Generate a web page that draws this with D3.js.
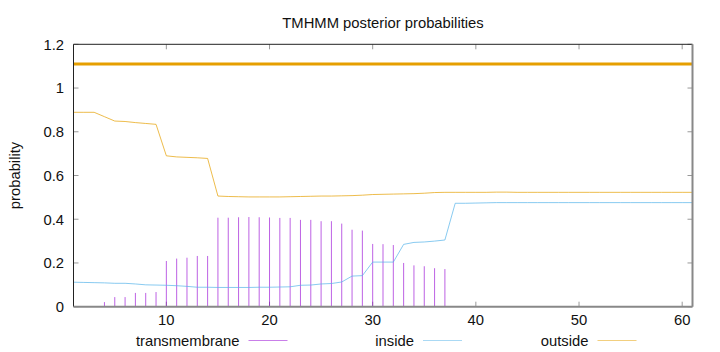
<!DOCTYPE html>
<html>
<head>
<meta charset="utf-8">
<script src="https://cdnjs.cloudflare.com/ajax/libs/d3/7.8.5/d3.min.js"></script>
<style>
  body { margin: 0; background: #fff; }
  svg text { font-family: "Liberation Sans", Arial, sans-serif; fill: #111; }
</style>
</head>
<body>
<div id="chart"></div>
<script>
// Data
var positions = d3.range(1, 62);

var transmembrane = [0, 0, 0, 0.021, 0.044, 0.044, 0.063, 0.063, 0.067, 0.209,
  0.220, 0.224, 0.232, 0.232, 0.407, 0.407, 0.409, 0.410, 0.409, 0.408,
  0.406, 0.406, 0.397, 0.397, 0.391, 0.391, 0.380, 0.352, 0.348, 0.287,
  0.286, 0.282, 0.200, 0.189, 0.185, 0.176, 0.172];

var inside = [0.112, 0.111, 0.110, 0.109, 0.107, 0.107, 0.104, 0.100, 0.099, 0.098,
  0.096, 0.093, 0.089, 0.089, 0.088, 0.088, 0.088, 0.088, 0.089, 0.089,
  0.090, 0.091, 0.098, 0.099, 0.104, 0.106, 0.113, 0.140, 0.142, 0.204,
  0.204, 0.204, 0.285, 0.294, 0.296, 0.300, 0.305, 0.473, 0.473, 0.474,
  0.475, 0.476, 0.476, 0.476, 0.476, 0.476, 0.476, 0.476, 0.476, 0.476,
  0.476, 0.476, 0.476, 0.476, 0.476, 0.476, 0.476, 0.476, 0.476, 0.476, 0.476];

var outside = [0.889, 0.889, 0.889, 0.869, 0.849, 0.847, 0.842, 0.838, 0.834, 0.690,
  0.685, 0.683, 0.681, 0.678, 0.506, 0.504, 0.503, 0.502, 0.502, 0.502,
  0.502, 0.503, 0.504, 0.505, 0.506, 0.506, 0.507, 0.508, 0.510, 0.513,
  0.514, 0.515, 0.516, 0.517, 0.519, 0.522, 0.523, 0.523, 0.523, 0.523,
  0.523, 0.524, 0.524, 0.523, 0.523, 0.523, 0.523, 0.523, 0.523, 0.523,
  0.523, 0.523, 0.523, 0.523, 0.523, 0.523, 0.523, 0.523, 0.523, 0.523, 0.523];

// predicted topology: the whole sequence is outside
var topology = [{ from: 1, to: 61, y: 1.11, region: 'outside' }];

var xTicks = [10, 20, 30, 40, 50, 60];
var yTicks = [0, 0.2, 0.4, 0.6, 0.8, 1, 1.2];
var legendNames = ['transmembrane', 'inside', 'outside'];

var width = 720, height = 352;
var margin = { top: 44.3, right: 27.5, bottom: 45.3, left: 73.5 };
var plotW = width - margin.left - margin.right;
var plotH = height - margin.top - margin.bottom;
var fontSize = '14.8px';

var colors = { transmembrane: '#9400d3', inside: '#56b4e9', outside: '#e69f00' };

var x = d3.scaleLinear().domain([1, 61]).range([0, plotW]);
var y = d3.scaleLinear().domain([0, 1.2]).range([plotH, 0]);

var svg = d3.select('#chart').append('svg')
  .attr('width', width)
  .attr('height', height);

var g = svg.append('g')
  .attr('transform', 'translate(' + margin.left + ',' + margin.top + ')');

// title
svg.append('text')
  .attr('x', margin.left + plotW / 2)
  .attr('y', 27.5)
  .attr('text-anchor', 'middle')
  .style('font-size', fontSize)
  .text('TMHMM posterior probabilities');

// y label
svg.append('text')
  .attr('transform', 'translate(19.5,' + (margin.top + plotH / 2) + ') rotate(-90)')
  .attr('text-anchor', 'middle')
  .style('font-size', fontSize)
  .text('probability');

// ticks, inward and mirrored
var tickCol = '#999';
yTicks.forEach(function(t) {
  g.append('line').attr('x1', 0).attr('x2', 5).attr('y1', y(t)).attr('y2', y(t))
    .attr('stroke', tickCol).attr('stroke-width', 1);
  g.append('line').attr('x1', plotW - 5).attr('x2', plotW).attr('y1', y(t)).attr('y2', y(t))
    .attr('stroke', tickCol).attr('stroke-width', 1);
  g.append('text')
    .attr('x', -9.5)
    .attr('y', y(t))
    .attr('dy', '0.36em')
    .attr('text-anchor', 'end')
    .style('font-size', fontSize)
    .text(t);
});

xTicks.forEach(function(t) {
  g.append('line').attr('x1', x(t)).attr('x2', x(t)).attr('y1', plotH).attr('y2', plotH - 5)
    .attr('stroke', tickCol).attr('stroke-width', 1);
  g.append('line').attr('x1', x(t)).attr('x2', x(t)).attr('y1', 0).attr('y2', 5)
    .attr('stroke', tickCol).attr('stroke-width', 1);
  g.append('text')
    .attr('x', x(t))
    .attr('y', plotH + 18.5)
    .attr('text-anchor', 'middle')
    .style('font-size', fontSize)
    .text(t);
});

// transmembrane impulses
g.selectAll('.tm')
  .data(transmembrane)
  .enter().append('line')
  .attr('class', 'tm')
  .attr('x1', function(d, i) { return x(positions[i]); })
  .attr('x2', function(d, i) { return x(positions[i]); })
  .attr('y1', y(0))
  .attr('y2', function(d) { return y(d); })
  .attr('stroke', colors.transmembrane)
  .attr('stroke-opacity', 0.62)
  .attr('stroke-width', 1);

var line = d3.line()
  .x(function(d, i) { return x(positions[i]); })
  .y(function(d) { return y(d); });

g.append('path')
  .datum(inside)
  .attr('d', line)
  .attr('fill', 'none')
  .attr('stroke', colors.inside)
  .attr('stroke-opacity', 0.7)
  .attr('stroke-width', 1);

g.append('path')
  .datum(outside)
  .attr('d', line)
  .attr('fill', 'none')
  .attr('stroke', colors.outside)
  .attr('stroke-opacity', 0.7)
  .attr('stroke-width', 1);

g.selectAll('.topo')
  .data(topology)
  .enter().append('line')
  .attr('class', 'topo')
  .attr('x1', function(d) { return x(d.from); })
  .attr('x2', function(d) { return x(d.to); })
  .attr('y1', function(d) { return y(d.y); })
  .attr('y2', function(d) { return y(d.y); })
  .attr('stroke', function(d) { return colors[d.region]; })
  .attr('stroke-width', 3);

// border: left/top dark, bottom/right grey
g.append('line').attr('x1', 0).attr('x2', 0).attr('y1', 0).attr('y2', plotH)
  .attr('stroke', '#222').attr('stroke-width', 1);
g.append('line').attr('x1', 0).attr('x2', plotW).attr('y1', 0).attr('y2', 0)
  .attr('stroke', '#222').attr('stroke-width', 1);
g.append('line').attr('x1', 0).attr('x2', plotW).attr('y1', plotH).attr('y2', plotH)
  .attr('stroke', '#888').attr('stroke-width', 2);
g.append('line').attr('x1', plotW).attr('x2', plotW).attr('y1', 0).attr('y2', plotH)
  .attr('stroke', '#888').attr('stroke-width', 2);

// legend along the bottom
var legendEnds = [239.5, 414, 588.5];
legendNames.forEach(function(name, i) {
  svg.append('text')
    .attr('x', legendEnds[i])
    .attr('y', 345.5)
    .attr('text-anchor', 'end')
    .style('font-size', fontSize)
    .text(name);
  svg.append('line')
    .attr('x1', legendEnds[i] + 9)
    .attr('x2', legendEnds[i] + 48)
    .attr('y1', 340.5)
    .attr('y2', 340.5)
    .attr('stroke', colors[name])
    .attr('stroke-opacity', 0.5)
    .attr('stroke-width', 1);
});
</script>
</body>
</html>
